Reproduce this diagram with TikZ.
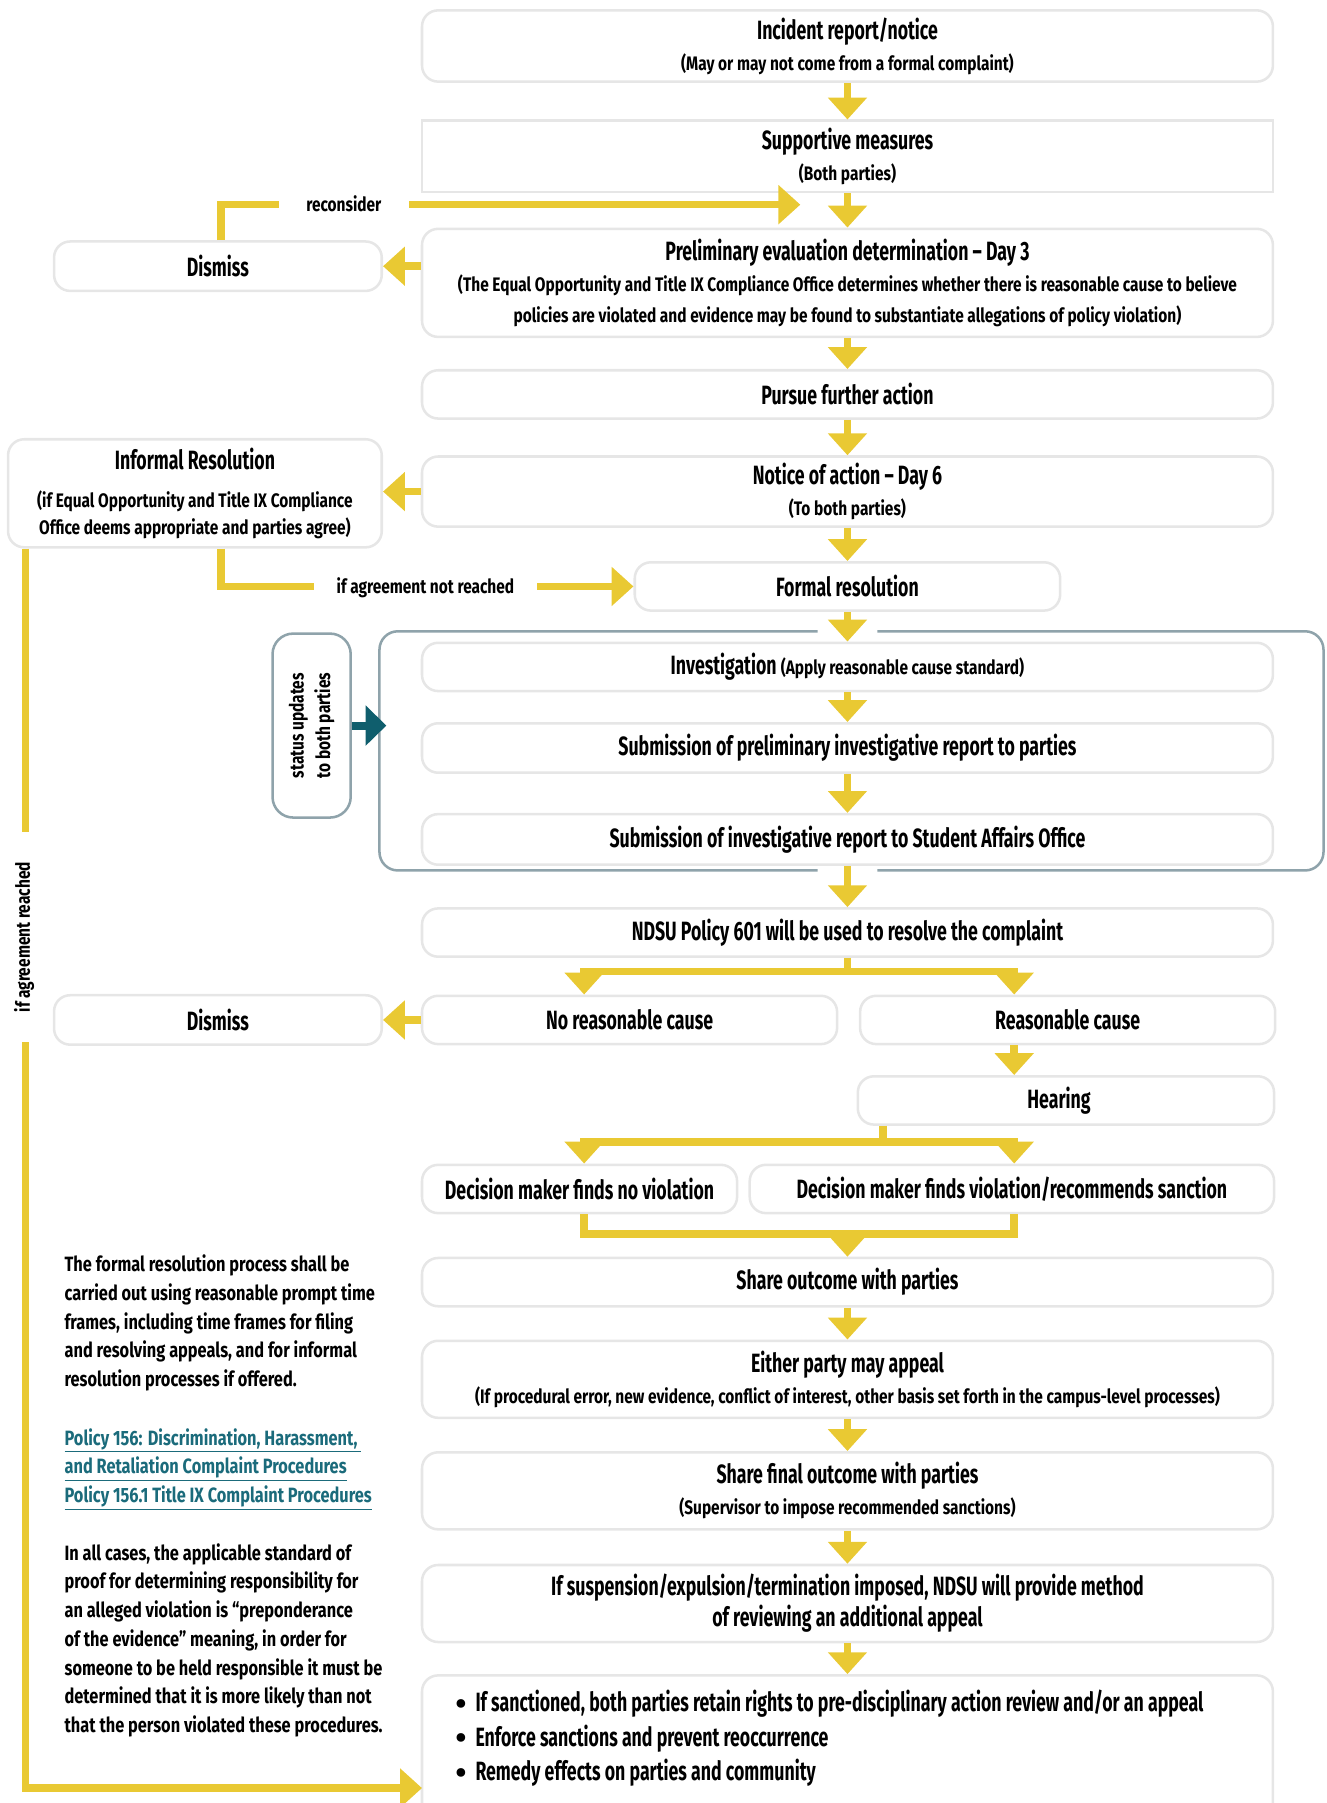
\documentclass[tikz,border=0pt]{standalone}
\usepackage{fontspec}
\setmainfont{Fira Sans}[FakeStretch=0.67]
\newfontfamily\subfont{Fira Sans}[FakeStretch=0.79]
\newfontfamily\dotfont{Fira Sans}
\usepackage{tikz}
\usepackage{xcolor}
\usetikzlibrary{shapes,arrows,arrows.meta}
\definecolor{ylw}{HTML}{E9C933}
\definecolor{boxgray}{HTML}{E6E6E6}
\definecolor{grpgray}{HTML}{8FA3AB}
\definecolor{darkteal}{HTML}{0F5E6D}
\definecolor{linkteal}{HTML}{1B6B7B}
\newcommand{\bigtxt}{\fontsize{23}{27}\selectfont\bfseries}
\newcommand{\subtxt}{\subfont\fontsize{17}{27}\selectfont\bfseries}
\newcommand{\paratxt}{\subfont\fontsize{18}{25}\selectfont\bfseries}
\newcommand{\bul}{\raisebox{-2pt}{\dotfont\fontsize{27}{27}\selectfont\textbullet}\hspace{8pt}}
\tikzstyle{block} = [rectangle, draw=boxgray, line width=2.2pt, fill=white,
rounded corners=14pt, minimum width=740pt, minimum height=42pt, inner sep=0pt,
text centered, align=center, font=\bigtxt]
\tikzstyle{plain} = [block, rounded corners=0pt]
\tikzstyle{statbox} = [rectangle, draw=grpgray, line width=2.2pt, rounded corners=18pt,
inner sep=0pt, align=center, font=\subfont\fontsize{17}{23}\selectfont\bfseries]
\tikzstyle{group} = [draw=grpgray, line width=2.2pt, rounded corners=16pt]
\tikzstyle{line} = [draw=ylw, line width=6.5pt, -{Triangle[width=33pt,length=19pt]}]
\tikzstyle{conn} = [draw=ylw, line width=6.5pt]
\tikzstyle{tealline} = [draw=darkteal, line width=7pt, -{Triangle[width=34pt,length=18pt]}]
\tikzstyle{tag} = [fill=white, inner ysep=6pt, font=\subtxt]
\tikzstyle{para} = [anchor=north west, align=left, inner sep=0pt, font=\paratxt]

\begin{document}
\begin{tikzpicture}[x=1pt, y=-1pt]
        \useasboundingbox (0,0) rectangle (1154,1568);

        \node [block, minimum height=62pt] (inc) at (737,40) {Incident report/notice\\{\subtxt (May or may not come from a formal complaint)}};
        \node [plain, minimum height=62pt] (supp) at (737,136) {Supportive measures\\{\subtxt (Both parties)}};
        \node [block, minimum height=94pt] (prelim) at (737,246) {Preliminary evaluation determination -- Day 3\\{\subtxt (The Equal Opportunity and Title IX Compliance Office determines whether there is reasonable cause to believe}\\{\subtxt policies are violated and evidence may be found to substantiate allegations of policy violation)}};
        \node [block] (pursue) at (737,343) {Pursue further action};
        \node [block, minimum height=61pt] (notice) at (737,427.5) {Notice of action -- Day 6\\{\subtxt (To both parties)}};
        \node [block, minimum width=370pt] (formal) at (737,510) {Formal resolution};
        \node [block] (invest) at (737,580) {Investigation {\subtxt (Apply reasonable cause standard)}};
        \node [block, minimum height=43pt] (subprelim) at (737,650.5) {Submission of preliminary investigative report to parties};
        \node [block, minimum height=44pt] (sao) at (737,730) {Submission of investigative report to Student Affairs Office};
        \node [block] (policy) at (737,811) {NDSU Policy 601 will be used to resolve the complaint};
        \node [block, minimum width=361pt] (nrc) at (547.5,887) {No reasonable cause};
        \node [block, minimum width=361pt] (rc) at (928.5,887) {Reasonable cause};
        \node [block, minimum width=362pt] (hearing) at (927,957) {\hspace{-12pt}Hearing};
        \node [block, minimum width=274pt] (dnv) at (504,1034) {Decision maker finds no violation};
        \node [block, minimum width=456pt] (dv) at (880,1034) {Decision maker finds violation/recommends sanction};
        \node [block] (share) at (737,1115) {Share outcome with parties};
        \node [block, minimum height=67pt] (appeal) at (737,1199.5) {Either party may appeal\\{\subtxt (If procedural error, new evidence, conflict of interest, other basis set forth in the campus-level processes)}};
        \node [block, minimum height=67pt] (final) at (737,1296.5) {Share final outcome with parties\\{\subtxt (Supervisor to impose recommended sanctions)}};
        \node [block, minimum height=67pt] (susp) at (737,1394.5) {If suspension/expulsion/termination imposed, NDSU will provide method\\of reviewing an additional appeal};
        \node [block, minimum height=130pt] (bul) at (737,1522) {};
        \node [anchor=west, align=left, inner sep=0pt, font=\fontsize{23}{30}\selectfont\bfseries] (bultxt) at (396,1512)
                {\bul If sanctioned, both parties retain rights to pre-disciplinary action review and/or an appeal\\
                 \bul Enforce sanctions and prevent reoccurrence\\
                 \bul Remedy effects on parties and community};

        % side boxes
        \node [block, minimum width=285pt, minimum height=43pt] (dis1) at (189.5,231.5) {Dismiss};
        \node [block, minimum width=325pt, minimum height=94pt] (inf) at (169.5,429) {Informal Resolution\\[6pt]{\subtxt (if Equal Opportunity and Title IX Compliance}\\[-3pt]{\subtxt Office deems appropriate and parties agree)}};
        \node [block, minimum width=285pt, minimum height=43pt] (dis2) at (189.5,887) {Dismiss};
        \node [statbox, rotate=90, minimum width=160pt, minimum height=68pt] (status) at (271,631) {status updates\\to both parties};

        \coordinate (rctip) at (696,178);
        \coordinate (grpin) at (336,631);
        \coordinate (bulin) at (367,1555);
        \coordinate (bl) at (508,845);
        \coordinate (br) at (882,845);
        \coordinate (hs) at (768,993);
        \coordinate (hl) at (508,993);
        \coordinate (hr) at (882,993);
        \coordinate (ml) at (508,1073);
        \coordinate (mr) at (882,1073);

        % investigation frame
        \draw [group] (711,549) -- (330,549) -- (330,757) -- (711,757);
        \draw [group] (763,757) -- (1151,757) -- (1151,549) -- (763,549);

        \path [line] (inc) -- (supp);
        \path [line] (supp) -- (prelim);
        \path [line] (prelim) -- (pursue);
        \path [line] (pursue) -- (notice);
        \path [line] (notice) -- (formal);
        \path [line] (formal) -- (invest);
        \path [line] (invest) -- (subprelim);
        \path [line] (subprelim) -- (sao);
        \path [line] (sao) -- (policy);
        \path [line] (policy.south) |- (bl) -- (bl |- nrc.north);
        \path [line] (policy.south) |- (br) -- (br |- rc.north);
        \path [line] (br |- rc.south) -- (br |- hearing.north);
        \path [line] (hs |- hearing.south) -- (hs) -- (hl) -- (hl |- dnv.north);
        \path [line] (hs |- hearing.south) -- (hs) -- (hr) -- (hr |- dv.north);
        \path [conn] (ml |- dnv.south) -- (ml) -- (mr) -- (mr |- dv.south);
        \path [line] (share.north |- ml) -- (share);
        \path [line] (share) -- (appeal);
        \path [line] (appeal) -- (final);
        \path [line] (final) -- (susp);
        \path [line] (susp) -- (bul);

        \path [line] (prelim.west |- dis1) -- (dis1);
        \path [line] (notice.west) -- (notice.west -| inf.east);
        \path [line] (nrc) -- (dis2);
        \path [line] ([xshift=2.5pt]dis1.north) |- (rctip);
        \path [line] ([xshift=22.5pt]inf.south) |- (formal.west);
        \path [line] ([xshift=-147.5pt]inf.south) |- (bulin);
        \path [tealline] (status.south) -- (grpin);

        \node [tag, inner xsep=24pt] at (299,177) {reconsider};
        \node [tag, inner xsep=20pt] at (370,511) {if agreement not reached};
        \node [tag, rotate=90, inner xsep=26pt] at (21,815) {if agreement reached};

        % notes on the left
        \node [para] (note1) at (56,1091) {The formal resolution process shall be\\carried out using reasonable prompt time\\frames, including time frames for filing\\and resolving appeals, and for informal\\resolution processes if offered.};
        \node [para, text=linkteal] (links) at (56,1242) {\underline{Policy 156: Discrimination, Harassment,\ }\\\underline{and Retaliation Complaint Procedures}\\\underline{Policy 156.1 Title IX Complaint Procedures}};
        \node [para] (note2) at (56,1342) {In all cases, the applicable standard of\\proof for determining responsibility for\\an alleged violation is “preponderance\\of the evidence” meaning, in order for\\someone to be held responsible it must be\\determined that it is more likely than not\\that the person violated these procedures.};
      \end{tikzpicture}
\end{document}
